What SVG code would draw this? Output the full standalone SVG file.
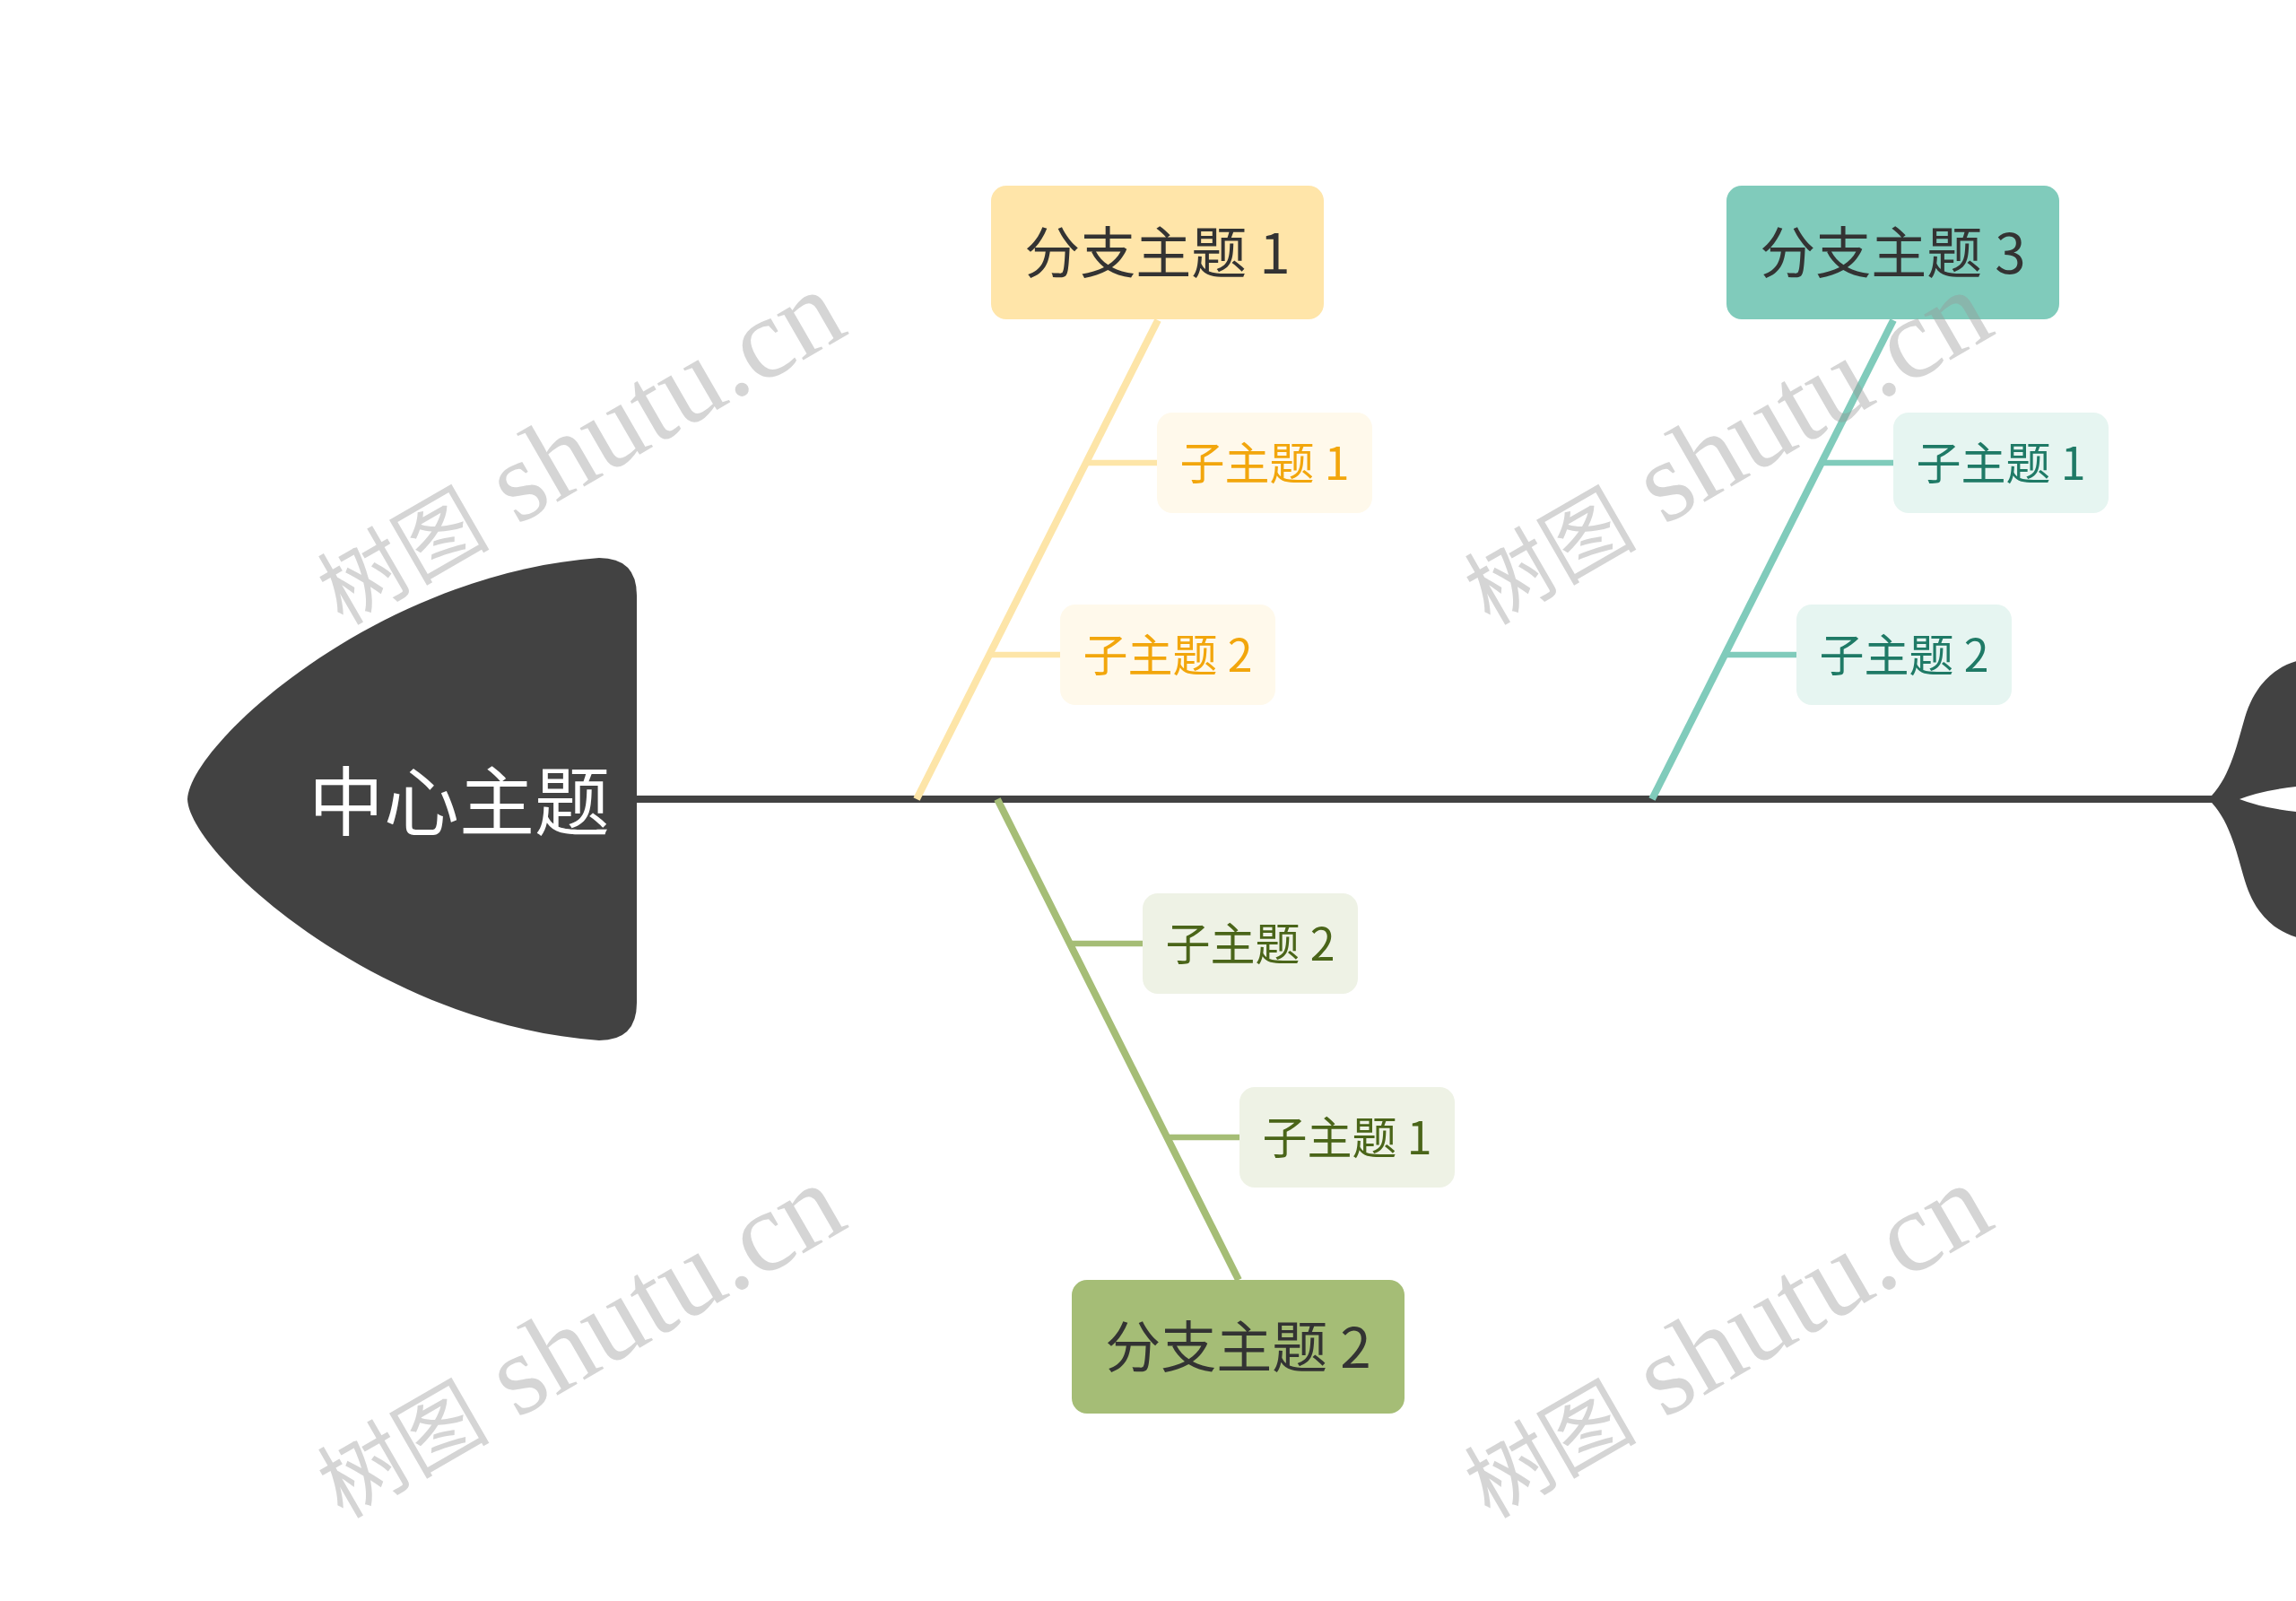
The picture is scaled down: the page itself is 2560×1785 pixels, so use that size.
<svg xmlns="http://www.w3.org/2000/svg" width="2560" height="1785" viewBox="0 0 2560 1785">
<style>
  text { font-family: "Noto Sans CJK SC", "Noto Sans", sans-serif; dominant-baseline: central; text-anchor: middle; }
  .main { fill: #ffffff; font-size: 84px; }
  .branch { fill: #333333; font-size: 62px; }
  .sub { font-size: 50px; }
  .bone { stroke-width: 8; fill: none; }
  .conn { stroke-width: 6.5; fill: none; }
  .y { stroke: #FDE5A8; }
  .t { stroke: #80CBBB; }
  .g { stroke: #A5BD76; }
  .wm { font-family: "Liberation Serif", "Noto Sans CJK SC", serif; fill: #969696; fill-opacity: 0.4; dominant-baseline: alphabetic; text-anchor: start; }
</style>
<rect width="2560" height="1785" fill="#ffffff"/>

<g id="connectors">
  <line x1="710" y1="891" x2="2466" y2="891" stroke="#424242" stroke-width="8"/>
  <line class="bone y" x1="1291" y1="357" x2="1022" y2="891"/>
  <line class="conn y" x1="1211" y1="516" x2="1290" y2="516"/>
  <line class="conn y" x1="1104" y1="730" x2="1182" y2="730"/>
  <line class="bone t" x1="2111" y1="357" x2="1842" y2="891"/>
  <line class="conn t" x1="2031" y1="516" x2="2111" y2="516"/>
  <line class="conn t" x1="1924" y1="730" x2="2003" y2="730"/>
  <line class="bone g" x1="1112" y1="891" x2="1381" y2="1427"/>
  <line class="conn g" x1="1193" y1="1052" x2="1274" y2="1052"/>
  <line class="conn g" x1="1301" y1="1268" x2="1382" y2="1268"/>
</g>

<g id="tail">
  <path d="M2462,891 C2485,870 2493,835 2503,800 C2515,760 2540,740 2570,735 L2570,876 Q2525,880 2497,891 Q2525,902 2570,906 L2570,1047 C2540,1042 2515,1022 2503,982 C2493,947 2485,912 2462,891 Z" fill="#424242"/>
</g>

<g id="center">
  <path d="M209,891 C211,830 420,640 668,622 Q710,622 710,664 L710,1118 Q710,1160 668,1160 C420,1142 211,952 209,891 Z" fill="#424242"/>
  <text class="main" x="512" y="888">中心主题</text>
</g>

<g id="branch1">
  <rect x="1105" y="207" width="371" height="149" rx="17" fill="#FFE5A9"/>
  <text class="branch" x="1290.5" y="278">分支主题 1</text>
</g>
<g id="b1-sub1">
  <rect x="1290" y="460" width="240" height="112" rx="17" fill="#FFF9EB"/>
  <text class="sub" x="1410" y="513" fill="#F2A60C">子主题 1</text>
</g>
<g id="b1-sub2">
  <rect x="1182" y="674" width="240" height="112" rx="17" fill="#FFF9EB"/>
  <text class="sub" x="1302" y="727" fill="#F2A60C">子主题 2</text>
</g>

<g id="branch3">
  <rect x="1925" y="207" width="371" height="149" rx="17" fill="#80CBBB"/>
  <text class="branch" x="2110.5" y="278">分支主题 3</text>
</g>
<g id="b3-sub1">
  <rect x="2111" y="460" width="240" height="112" rx="17" fill="#E6F5F1"/>
  <text class="sub" x="2231" y="513" fill="#1F7A66">子主题 1</text>
</g>
<g id="b3-sub2">
  <rect x="2003" y="674" width="240" height="112" rx="17" fill="#E6F5F1"/>
  <text class="sub" x="2123" y="727" fill="#1F7A66">子主题 2</text>
</g>

<g id="branch2">
  <rect x="1195" y="1427" width="371" height="149" rx="17" fill="#A5BD76"/>
  <text class="branch" x="1380.5" y="1498">分支主题 2</text>
</g>
<g id="b2-sub2">
  <rect x="1274" y="996" width="240" height="112" rx="17" fill="#EEF2E5"/>
  <text class="sub" x="1394" y="1049" fill="#4A6519">子主题 2</text>
</g>
<g id="b2-sub1">
  <rect x="1382" y="1212" width="240" height="112" rx="17" fill="#EEF2E5"/>
  <text class="sub" x="1502" y="1265" fill="#4A6519">子主题 1</text>
</g>

<g id="watermarks">
  <text class="wm" transform="translate(382,698) rotate(-30)"><tspan font-size="96">树图</tspan><tspan font-size="128"> shutu.cn</tspan></text>
  <text class="wm" transform="translate(1661,698) rotate(-30)"><tspan font-size="96">树图</tspan><tspan font-size="128"> shutu.cn</tspan></text>
  <text class="wm" transform="translate(382,1694) rotate(-30)"><tspan font-size="96">树图</tspan><tspan font-size="128"> shutu.cn</tspan></text>
  <text class="wm" transform="translate(1661,1694) rotate(-30)"><tspan font-size="96">树图</tspan><tspan font-size="128"> shutu.cn</tspan></text>
</g>
</svg>
